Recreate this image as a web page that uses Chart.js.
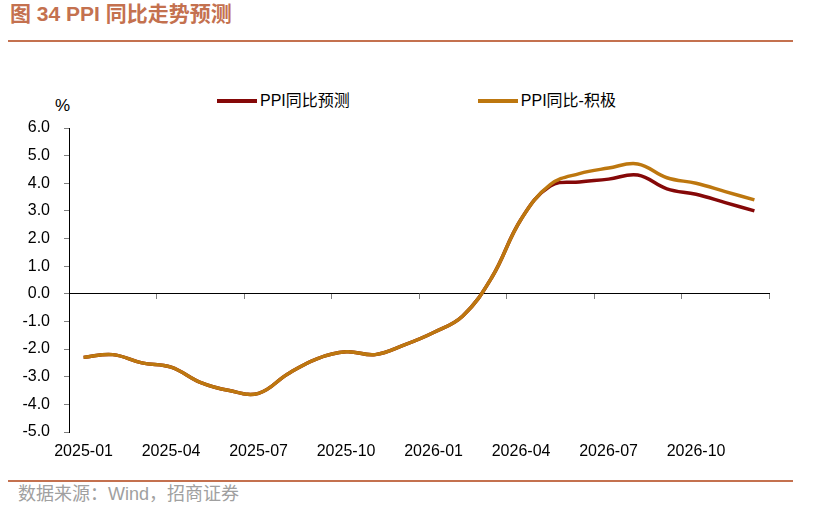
<!DOCTYPE html>
<html>
<head>
<meta charset="utf-8">
<script src="https://cdn.jsdelivr.net/npm/chart.js@4.4.0/dist/chart.umd.min.js"></script>
<style>
  body { margin: 0; width: 823px; height: 514px; background: #fff; position: relative; overflow: hidden;
         font-family: "Liberation Sans", "Noto Sans CJK SC", sans-serif; }
  #title { position: absolute; left: 10px; top: 2px; font-size: 21px; line-height: 24px; font-weight: bold; color: #C4714F; }
  .rule { position: absolute; left: 8px; width: 785px; height: 2px; background: #C4714F; }
  #unit { position: absolute; left: 55px; top: 96px; font-size: 17px; line-height: 20px; color: #000; }
  #legend { position: absolute; left: 217px; top: 91px; display: flex; gap: 128px; font-size: 16px; line-height: 20px; color: #000; }
  #legend .item { display: flex; align-items: center; }
  #legend .swatch { display: inline-block; width: 40px; height: 4px; margin-right: 3px; }
  #source { position: absolute; left: 18px; top: 483px; font-size: 18px; line-height: 22px; color: #A0A0A0; }
  #wrap { position: absolute; left: 0; top: 0; width: 823px; height: 514px; }
</style>
</head>
<body>
<div id="title">图 34 PPI 同比走势预测</div>
<div class="rule" style="top:40px"></div>
<div id="unit">%</div>
<div id="legend"></div>
<div class="rule" style="top:480px"></div>
<div id="source">数据来源：Wind，招商证券</div>
<div id="wrap"><canvas id="chart" width="823" height="514"></canvas></div>

<script>
// monthly categories
const months = ['2025-01','2025-02','2025-03','2025-04','2025-05','2025-06','2025-07','2025-08','2025-09','2025-10','2025-11','2025-12',
                '2026-01','2026-02','2026-03','2026-04','2026-05','2026-06','2026-07','2026-08','2026-09','2026-10','2026-11','2026-12'];
const tickLabels = ['2025-01','2025-04','2025-07','2025-10','2026-01','2026-04','2026-07','2026-10'];

// PPI yoy, %
const ppiForecast = [-2.3, -2.2, -2.5, -2.65, -3.2, -3.5, -3.6, -2.9, -2.35, -2.1, -2.2, -1.85,
                     -1.4, -0.8, 0.6, 2.7, 3.9, 4.05, 4.15, 4.3, 3.8, 3.6, 3.3, 3.0];
const ppiPositive = [-2.3, -2.2, -2.5, -2.65, -3.2, -3.5, -3.6, -2.9, -2.35, -2.1, -2.2, -1.85,
                     -1.4, -0.8, 0.6, 2.7, 3.95, 4.35, 4.55, 4.7, 4.2, 4.0, 3.7, 3.4];

const yMin = -5, yMax = 6;
const tickFont = { family: '"Liberation Sans", Arial, sans-serif', size: 16 };

const chart = new Chart(document.getElementById('chart'), {
    type: 'line',
    data: {
        labels: months,
        datasets: [
            { label: 'PPI同比预测', data: ppiForecast, borderColor: '#850808', backgroundColor: '#850808',
              borderWidth: 3.5, pointRadius: 0, tension: 0.4, order: 2 },
            { label: 'PPI同比-积极', data: ppiPositive, borderColor: '#BD770F', backgroundColor: '#BD770F',
              borderWidth: 3.5, pointRadius: 0, tension: 0.4, order: 1 }
        ]
    },
    options: {
        responsive: false,
        animation: false,
        layout: { padding: { left: 0, right: 54, top: 128, bottom: 52 } },
        plugins: { legend: { display: false }, tooltip: { enabled: false } },
        scales: {
            x: {
                type: 'category',
                offset: true,
                grid: { display: false, drawTicks: false },
                border: { display: false },
                ticks: {
                    autoSkip: false, maxRotation: 0, padding: 10, color: '#000', font: tickFont,
                    callback: function (value) {
                        const lab = this.getLabelForValue(value);
                        return tickLabels.includes(lab) ? lab : '';
                    }
                },
                afterFit: s => { s.height = 30; }
            },
            // zero line with quarterly tick marks
            x0: {
                type: 'category',
                position: { y: 0 },
                offset: true,
                grid: {
                    offset: true, drawOnChartArea: false, drawTicks: true, tickLength: 5, lineWidth: 1,
                    color: c => (c.index === undefined || c.index % 3 === 0) ? '#7f7f7f' : 'rgba(0,0,0,0)'
                },
                border: { display: true, color: '#000', width: 1 },
                ticks: { display: false, autoSkip: false }
            },
            y: {
                min: yMin, max: yMax,
                grid: { drawOnChartArea: false, drawTicks: true, tickLength: 5, color: '#7f7f7f' },
                border: { display: true, color: '#000', width: 1 },
                ticks: { stepSize: 1, padding: 14, color: '#000', font: tickFont, callback: v => v.toFixed(1) },
                afterFit: s => { s.width = 69; }
            }
        }
    }
});

// html legend from the datasets
const legend = document.getElementById('legend');
chart.data.datasets.forEach(ds => {
    const item = document.createElement('div');
    item.className = 'item';
    const sw = document.createElement('span');
    sw.className = 'swatch';
    sw.style.background = ds.borderColor;
    item.appendChild(sw);
    item.appendChild(document.createTextNode(ds.label));
    legend.appendChild(item);
});
</script>
</body>
</html>
